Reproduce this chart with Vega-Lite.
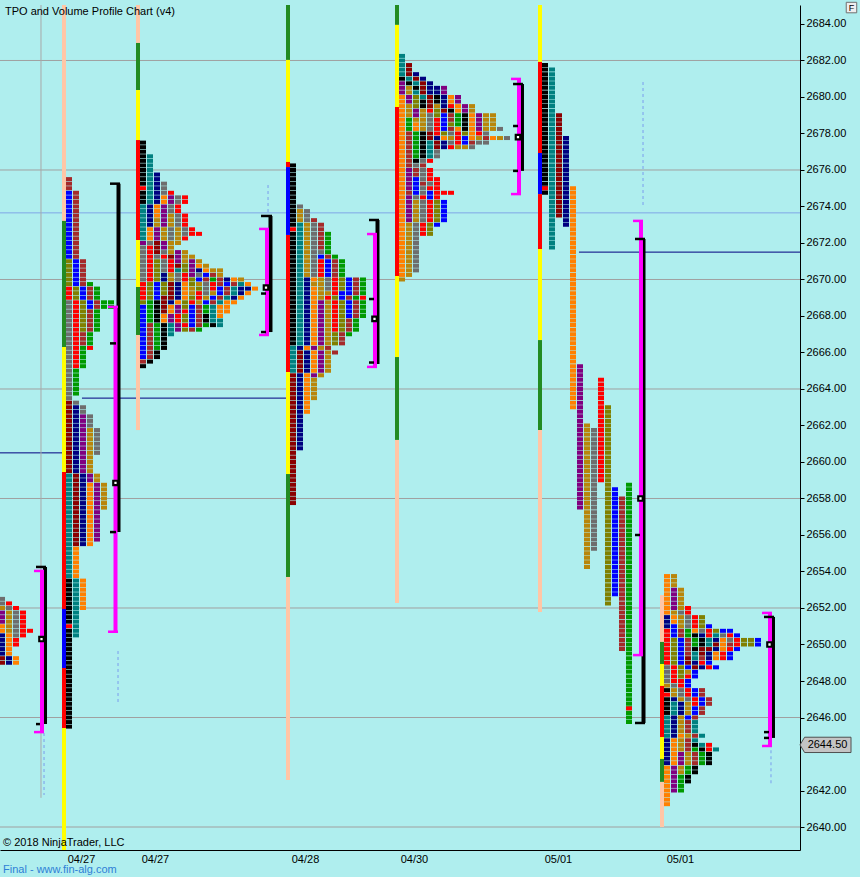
{
"$schema":"https://vega.github.io/schema/vega-lite/v6.json",
"width":800,"height":845,
"autosize":{"type":"none"},
"padding":{"left":0,"top":5,"right":60,"bottom":27},
"background":"#AFEEEE",
"config":{"view":{"stroke":null},"font":"Liberation Sans"},
"resolve":{"scale":{"stroke":"independent","fill":"independent"}},
"encoding":{
 "x":{"field":"x","type":"quantitative","scale":{"domain":[0,114.2857],"nice":false,"zero":false},
   "axis":{"orient":"bottom","values":[11.57,22.14,43.57,59.14,79.71,97.14],"labelExpr":"datum.value < 30 ? '04/27' : datum.value < 50 ? '04/28' : datum.value < 70 ? '04/30' : '05/01'","title":null,"grid":false,"ticks":false,"domainColor":"#000000","domainWidth":1,"labelFontSize":11,"labelColor":"#000000","labelPadding":3,"labelFlush":false,"labelOverlap":false}},
 "y":{"field":"y","type":"quantitative","scale":{"domain":[2638.74,2685.04],"nice":false,"zero":false},
   "axis":{"orient":"right","values":[2640,2642,2646,2648,2650,2652,2654,2656,2658,2660,2662,2664,2666,2668,2670,2672,2674,2676,2678,2680,2682,2684],"format":".2f","title":null,"grid":false,"domainColor":"#000000","domainWidth":1,"tickColor":"#000000","tickSize":4,"labelFontSize":11,"labelColor":"#000000","labelPadding":2,"labelOverlap":false,"labelFlush":false}}
},
"datasets":{
"sessions":[{"s":"A","t":-0.1429},{"s":"B","t":9.4286},{"s":"C","t":20},{"s":"D","t":41.4286},{"s":"E","t":57},{"s":"F","t":77.4286},{"s":"G","t":94.8571}],
"tpo":[
{"s":"A","y":2652.5,"c":[4]},{"s":"A","y":2652.25,"c":[4,6]},{"s":"A","y":2652,"c":[8,4,6]},{"s":"A","y":2651.75,"c":[7,8,4,6]},{"s":"A","y":2651.5,"c":[7,8,4,6]},{"s":"A","y":2651.25,"c":[7,8,4,6]},{"s":"A","y":2651,"c":[5,8,4,6]},{"s":"A","y":2650.75,"c":[5,8,4,6,6]},{"s":"A","y":2650.5,"c":[3,5,4,6]},{"s":"A","y":2650.25,"c":[3,5,6]},{"s":"A","y":2650,"c":[3,5,6]},{"s":"A","y":2649.75,"c":[3,5]},{"s":"A","y":2649.5,"c":[3,5]},{"s":"A","y":2649.25,"c":[2,3,5]},{"s":"A","y":2649,"c":[2,3,5]},
{"s":"B","y":2675.5,"c":[10]},{"s":"B","y":2675.25,"c":[10]},{"s":"B","y":2675,"c":[10]},
{"s":"B","y":2674.75,"c":[11,10]},{"s":"B","y":2674.5,"c":[11,10]},{"s":"B","y":2674.25,"c":[11,10]},{"s":"B","y":2674,"c":[11,10]},{"s":"B","y":2673.75,"c":[11,10]},{"s":"B","y":2673.5,"c":[11,10]},{"s":"B","y":2673.25,"c":[11,10]},{"s":"B","y":2673,"c":[11,10]},{"s":"B","y":2672.75,"c":[11,10]},{"s":"B","y":2672.5,"c":[11,10]},{"s":"B","y":2672.25,"c":[11,10]},{"s":"B","y":2672,"c":[11,10]},{"s":"B","y":2671.75,"c":[11,10]},{"s":"B","y":2671.5,"c":[11,10]},{"s":"B","y":2671.25,"c":[11,10]},
{"s":"B","y":2671,"c":[9,11,10]},{"s":"B","y":2670.75,"c":[9,11,10]},{"s":"B","y":2670.5,"c":[9,11,10]},{"s":"B","y":2670.25,"c":[9,11,10]},{"s":"B","y":2670,"c":[9,11,10]},
{"s":"B","y":2669.75,"c":[9,11,10,12]},
{"s":"B","y":2669.5,"c":[6,9,11,10,12]},{"s":"B","y":2669.25,"c":[6,9,11,10,12]},{"s":"B","y":2669,"c":[6,9,11,10,12]},
{"s":"B","y":2668.75,"c":[4,6,9,11,10,12,12]},{"s":"B","y":2668.5,"c":[4,6,9,11,10,12,12]},
{"s":"B","y":2668.25,"c":[4,6,9,10,12]},{"s":"B","y":2668,"c":[4,6,9,10,12]},{"s":"B","y":2667.75,"c":[4,6,9,10,12]},{"s":"B","y":2667.5,"c":[4,6,9,10,12]},{"s":"B","y":2667.25,"c":[4,6,9,10,12]},
{"s":"B","y":2667,"c":[4,6,10,12]},{"s":"B","y":2666.75,"c":[4,6,10,12]},{"s":"B","y":2666.5,"c":[4,6,10,12]},
{"s":"B","y":2666.25,"c":[4,6,12,6]},
{"s":"B","y":2666,"c":[4,6,12]},{"s":"B","y":2665.75,"c":[4,6,12]},{"s":"B","y":2665.5,"c":[4,6,12]},{"s":"B","y":2665.25,"c":[4,6,12]},
{"s":"B","y":2665,"c":[4,12]},{"s":"B","y":2664.75,"c":[4,12]},{"s":"B","y":2664.5,"c":[4,12]},{"s":"B","y":2664.25,"c":[4,12]},{"s":"B","y":2664,"c":[4,12]},{"s":"B","y":2663.75,"c":[4,12]},
{"s":"B","y":2663.5,"c":[4]},{"s":"B","y":2663.25,"c":[2,4]},
{"s":"B","y":2663,"c":[2,3,4]},{"s":"B","y":2662.75,"c":[2,3,4]},
{"s":"B","y":2662.5,"c":[2,3,7,4]},{"s":"B","y":2662.25,"c":[2,3,7,4]},{"s":"B","y":2662,"c":[2,3,7,4]},
{"s":"B","y":2661.75,"c":[2,3,7,8,4]},{"s":"B","y":2661.5,"c":[2,3,7,8,4]},{"s":"B","y":2661.25,"c":[2,3,7,8,4]},{"s":"B","y":2661,"c":[2,3,7,8,4]},{"s":"B","y":2660.75,"c":[2,3,7,8,4]},{"s":"B","y":2660.5,"c":[2,3,7,8,4]},
{"s":"B","y":2660.25,"c":[2,3,7,8]},{"s":"B","y":2660,"c":[2,3,7,8]},{"s":"B","y":2659.75,"c":[2,3,7,8]},{"s":"B","y":2659.5,"c":[2,3,7,8]},
{"s":"B","y":2659.25,"c":[1,2,3,7,8]},{"s":"B","y":2659,"c":[1,2,3,7,8]},
{"s":"B","y":2658.75,"c":[1,2,3,5,7,8]},{"s":"B","y":2658.5,"c":[1,2,3,5,7,8]},{"s":"B","y":2658.25,"c":[1,2,3,5,7,8]},{"s":"B","y":2658,"c":[1,2,3,5,7,8]},{"s":"B","y":2657.75,"c":[1,2,3,5,7,8]},{"s":"B","y":2657.5,"c":[1,2,3,5,7,8]},
{"s":"B","y":2657.25,"c":[1,2,3,5,7]},{"s":"B","y":2657,"c":[1,2,3,5,7]},{"s":"B","y":2656.75,"c":[1,2,3,5,7]},{"s":"B","y":2656.5,"c":[1,2,3,5,7]},{"s":"B","y":2656.25,"c":[1,2,3,5,7]},{"s":"B","y":2656,"c":[1,2,3,5,7]},{"s":"B","y":2655.75,"c":[1,2,3,5,7]},
{"s":"B","y":2655.5,"c":[1,2,3,5]},
{"s":"B","y":2655.25,"c":[1,5]},{"s":"B","y":2655,"c":[1,5]},{"s":"B","y":2654.75,"c":[1,5]},{"s":"B","y":2654.5,"c":[1,5]},{"s":"B","y":2654.25,"c":[1,5]},{"s":"B","y":2654,"c":[1,5]},{"s":"B","y":2653.75,"c":[1,5]},
{"s":"B","y":2653.5,"c":[0,1,5]},{"s":"B","y":2653.25,"c":[0,1,5]},{"s":"B","y":2653,"c":[0,1,5]},{"s":"B","y":2652.75,"c":[0,1,5]},{"s":"B","y":2652.5,"c":[0,1,5]},{"s":"B","y":2652.25,"c":[0,1,5]},{"s":"B","y":2652,"c":[0,1,5]},
{"s":"B","y":2651.75,"c":[0,1]},{"s":"B","y":2651.5,"c":[0,1]},{"s":"B","y":2651.25,"c":[0,1]},{"s":"B","y":2651,"c":[6,1]},{"s":"B","y":2650.75,"c":[0,1]},{"s":"B","y":2650.5,"c":[0,1]},
{"s":"B","y":2650.25,"c":[0]},{"s":"B","y":2650,"c":[0]},{"s":"B","y":2649.75,"c":[0]},{"s":"B","y":2649.5,"c":[0]},{"s":"B","y":2649.25,"c":[0]},{"s":"B","y":2649,"c":[0]},{"s":"B","y":2648.75,"c":[0]},{"s":"B","y":2648.5,"c":[0]},{"s":"B","y":2648.25,"c":[0]},{"s":"B","y":2648,"c":[0]},{"s":"B","y":2647.75,"c":[0]},{"s":"B","y":2647.5,"c":[0]},{"s":"B","y":2647.25,"c":[0]},{"s":"B","y":2647,"c":[0]},{"s":"B","y":2646.75,"c":[0]},{"s":"B","y":2646.5,"c":[0]},{"s":"B","y":2646.25,"c":[0]},{"s":"B","y":2646,"c":[0]},{"s":"B","y":2645.75,"c":[0]},{"s":"B","y":2645.5,"c":[0]},
{"s":"C","y":2677.5,"c":[0]},{"s":"C","y":2677.25,"c":[0]},{"s":"C","y":2677,"c":[0]},{"s":"C","y":2676.75,"c":[0,1]},{"s":"C","y":2676.5,"c":[0,1]},{"s":"C","y":2676.25,"c":[0,1]},{"s":"C","y":2676,"c":[0,1]},{"s":"C","y":2675.75,"c":[0,1,3]},{"s":"C","y":2675.5,"c":[0,1,3]},{"s":"C","y":2675.25,"c":[0,1,3,4]},{"s":"C","y":2675,"c":[6,1,3,4]},{"s":"C","y":2674.75,"c":[0,1,3,4,6]},{"s":"C","y":2674.5,"c":[0,1,3,5,7,4,6]},{"s":"C","y":2674.25,"c":[0,1,3,5,7,4,6]},{"s":"C","y":2674,"c":[1,3,5,7,4,6]},{"s":"C","y":2673.75,"c":[1,3,5,7,4,6]},{"s":"C","y":2673.5,"c":[1,3,5,7,8,4,6]},{"s":"C","y":2673.25,"c":[1,3,8,7,8,4,6]},{"s":"C","y":2673,"c":[1,3,8,7,8,4,6]},{"s":"C","y":2672.75,"c":[1,5,7,8,4,8,4,6]},{"s":"C","y":2672.5,"c":[1,5,7,8,4,8,4,6,6]},{"s":"C","y":2672.25,"c":[1,5,7,8,4,8,6]},{"s":"C","y":2672,"c":[7,4,2,7,8,8]},{"s":"C","y":2671.75,"c":[4,6,2,7,8]},{"s":"C","y":2671.5,"c":[4,6,2,4,8,7,8]},{"s":"C","y":2671.25,"c":[4,6,4,6,2,7,8,8]},{"s":"C","y":2671,"c":[4,6,9,4,6,7,8,7,8]},{"s":"C","y":2670.75,"c":[4,6,9,4,6,2,9,7,5,8]},{"s":"C","y":2670.5,"c":[4,6,9,4,6,1,9,7,3,5,8,8]},{"s":"C","y":2670.25,"c":[4,6,9,3,8,4,6,7,4,11,10,8]},{"s":"C","y":2670,"c":[4,6,9,3,8,4,6,9,11,10,12,10,3,5,8]},{"s":"C","y":2669.75,"c":[6,9,11,9,2,3,5,9,8,4,6,10,11,10,1,5]},{"s":"C","y":2669.5,"c":[6,9,11,9,2,3,5,8,9,4,6,11,10,1,3,3,5]},{"s":"C","y":2669.25,"c":[6,9,11,9,2,3,5,8,6,4,8,11,10,1,3,5]},{"s":"C","y":2669,"c":[6,9,11,2,2,3,5,9,6,8,11,10,1,3,5]},{"s":"C","y":2668.75,"c":[9,12,0,2,3,5,9,6,8,11,10,1,5,5]},{"s":"C","y":2668.5,"c":[11,12,0,2,5,7,9,11,10,12,1,5,5]},{"s":"C","y":2668.25,"c":[11,12,0,2,5,7,6,11,10,12,1,5,5]},{"s":"C","y":2668,"c":[11,12,0,5,7,6,9,11,10,0,1,5]},{"s":"C","y":2667.75,"c":[11,12,0,5,7,6,9,11,10,0,1,1]},{"s":"C","y":2667.5,"c":[11,10,12,0,1,7,6,11,10,12,0,1]},{"s":"C","y":2667.25,"c":[11,10,12,0,1,7,9,10,12]},{"s":"C","y":2667,"c":[11,10,12,0,1]},{"s":"C","y":2666.75,"c":[11,10,12,0]},{"s":"C","y":2666.5,"c":[11,10,12,0]},{"s":"C","y":2666.25,"c":[11,10,12,0]},{"s":"C","y":2666,"c":[11,10,0]},{"s":"C","y":2665.75,"c":[11,10,0]},{"s":"C","y":2665.5,"c":[10,0]},{"s":"C","y":2665.25,"c":[0]},
{"s":"D","y":2676.25,"c":[0]},{"s":"D","y":2676,"c":[0]},{"s":"D","y":2675.75,"c":[0]},{"s":"D","y":2675.5,"c":[0]},{"s":"D","y":2675.25,"c":[0]},{"s":"D","y":2675,"c":[0]},{"s":"D","y":2674.75,"c":[0]},{"s":"D","y":2674.5,"c":[0]},{"s":"D","y":2674.25,"c":[0]},{"s":"D","y":2674,"c":[0,4]},{"s":"D","y":2673.75,"c":[0,8,4]},{"s":"D","y":2673.5,"c":[0,8,4]},{"s":"D","y":2673.25,"c":[0,8,4,10]},{"s":"D","y":2673,"c":[0,1,8,4,10]},{"s":"D","y":2672.75,"c":[6,1,8,4,10]},{"s":"D","y":2672.5,"c":[0,1,8,4,10,12]},{"s":"D","y":2672.25,"c":[0,1,8,4,10,12]},{"s":"D","y":2672,"c":[0,1,8,4,10,12]},{"s":"D","y":2671.75,"c":[0,1,8,4,10,12]},{"s":"D","y":2671.5,"c":[0,1,8,4,4,12]},{"s":"D","y":2671.25,"c":[0,1,8,4,11,10,12]},{"s":"D","y":2671,"c":[0,1,8,4,6,11,10,12]},{"s":"D","y":2670.75,"c":[0,1,8,4,6,11,10,12]},{"s":"D","y":2670.5,"c":[0,1,8,4,6,11,10,12]},{"s":"D","y":2670.25,"c":[0,1,8,4,6,11,10,12]},{"s":"D","y":2670,"c":[0,1,3,5,8,4,6,9,11,10,12]},{"s":"D","y":2669.75,"c":[0,1,3,8,8,4,6,9,11,10,12]},{"s":"D","y":2669.5,"c":[0,1,3,5,8,4,6,9,11,10,12]},{"s":"D","y":2669.25,"c":[0,1,3,5,8,8,6,11,11,10,12]},{"s":"D","y":2669,"c":[0,1,3,5,8,6,9,11,10,12,6]},{"s":"D","y":2668.75,"c":[0,1,3,5,7,8,6,9,11,10,12]},{"s":"D","y":2668.5,"c":[0,1,3,5,7,8,6,9,11,10,12]},{"s":"D","y":2668.25,"c":[0,1,3,5,7,8,6,9,11,10,12]},{"s":"D","y":2668,"c":[0,1,3,5,7,8,6,9,11,10,12]},{"s":"D","y":2667.75,"c":[0,1,3,5,7,8,6,9,10,12]},{"s":"D","y":2667.5,"c":[0,1,3,5,7,8,6,9,10,12]},{"s":"D","y":2667.25,"c":[0,1,3,5,7,8,6,9,10,12]},{"s":"D","y":2667,"c":[0,1,3,5,7,8,9,10,12]},{"s":"D","y":2666.75,"c":[0,1,3,5,7,8,9,10]},{"s":"D","y":2666.5,"c":[0,1,3,5,7,8,9,10]},{"s":"D","y":2666.25,"c":[1,3,5,7,8,10]},{"s":"D","y":2666,"c":[1,2,3,5,7,8,10]},{"s":"D","y":2665.75,"c":[1,2,3,5,7,8]},{"s":"D","y":2665.5,"c":[1,2,3,5,7,8]},{"s":"D","y":2665.25,"c":[1,2,3,5,7,8]},{"s":"D","y":2665,"c":[1,2,3,5,7,8]},{"s":"D","y":2664.75,"c":[2,3,5,7,8]},{"s":"D","y":2664.5,"c":[2,3,5,8]},{"s":"D","y":2664.25,"c":[2,3,5,8]},{"s":"D","y":2664,"c":[2,3,5,8]},{"s":"D","y":2663.75,"c":[2,3,5,8]},{"s":"D","y":2663.5,"c":[2,3,5,8]},{"s":"D","y":2663.25,"c":[2,3,5]},{"s":"D","y":2663,"c":[2,3,5]},{"s":"D","y":2662.75,"c":[2,3,5]},{"s":"D","y":2662.5,"c":[2,3]},{"s":"D","y":2662.25,"c":[2,3]},{"s":"D","y":2662,"c":[2,3]},{"s":"D","y":2661.75,"c":[2,3]},{"s":"D","y":2661.5,"c":[2,3]},{"s":"D","y":2661.25,"c":[2,3]},{"s":"D","y":2661,"c":[2,3]},{"s":"D","y":2660.75,"c":[2,3]},{"s":"D","y":2660.5,"c":[2]},{"s":"D","y":2660.25,"c":[2]},{"s":"D","y":2660,"c":[2]},{"s":"D","y":2659.75,"c":[2]},{"s":"D","y":2659.5,"c":[2]},{"s":"D","y":2659.25,"c":[2]},{"s":"D","y":2659,"c":[2]},{"s":"D","y":2658.75,"c":[2]},{"s":"D","y":2658.5,"c":[2]},{"s":"D","y":2658.25,"c":[2]},{"s":"D","y":2658,"c":[2]},{"s":"D","y":2657.75,"c":[2]},
{"s":"E","y":2682.25,"c":[1]},{"s":"E","y":2682,"c":[1]},{"s":"E","y":2681.75,"c":[1,2]},{"s":"E","y":2681.5,"c":[1,2]},{"s":"E","y":2681.25,"c":[1,2,3]},{"s":"E","y":2681,"c":[0,1,2,3]},{"s":"E","y":2680.75,"c":[7,0,1,2,3]},{"s":"E","y":2680.5,"c":[7,8,0,2,3,3,7]},{"s":"E","y":2680.25,"c":[7,8,1,2,3,3,7]},{"s":"E","y":2680,"c":[5,7,9,1,2,0,3,5,7]},{"s":"E","y":2679.75,"c":[5,7,9,0,2,0,3,5,7]},{"s":"E","y":2679.5,"c":[5,8,9,0,2,8,3,6,5,7,8]},{"s":"E","y":2679.25,"c":[5,8,7,8,6,9,2,0,5,7,8]},{"s":"E","y":2679,"c":[5,8,7,8,4,9,11,10,12,0,5,7,8,8]},{"s":"E","y":2678.75,"c":[5,12,8,8,4,6,11,10,12,0,5,7,8,8]},{"s":"E","y":2678.5,"c":[5,12,5,8,4,6,11,9,12,0,5,7,8,8]},{"s":"E","y":2678.25,"c":[5,12,5,8,4,6,11,10,5,0,5,7,8,8,4]},{"s":"E","y":2678,"c":[5,10,12,0,2,6,9,4,6,9,5,6,4]},{"s":"E","y":2677.75,"c":[5,10,12,0,2,3,5,8,6,11,5,8,10,5,8,4]},{"s":"E","y":2677.5,"c":[5,10,12,0,1,2,3,4,6,11,10,4,4]},{"s":"E","y":2677.25,"c":[5,10,12,0,1,2,3,6,8,8,4]},{"s":"E","y":2677,"c":[5,10,12,0,1,4]},{"s":"E","y":2676.75,"c":[5,10,12,0,1,4]},{"s":"E","y":2676.5,"c":[5,10,0,4,6]},{"s":"E","y":2676.25,"c":[5,10,4,10]},{"s":"E","y":2676,"c":[5,7,10,4,6]},{"s":"E","y":2675.75,"c":[5,7,10,4,6]},{"s":"E","y":2675.5,"c":[5,7,11,4,6,6]},{"s":"E","y":2675.25,"c":[5,7,11,10,4,6]},{"s":"E","y":2675,"c":[5,7,11,4,6,6]},{"s":"E","y":2674.75,"c":[5,10,11,4,11,6,6,6]},{"s":"E","y":2674.5,"c":[5,7,4,6,11,6]},{"s":"E","y":2674.25,"c":[5,7,8,4,6,9,11]},{"s":"E","y":2674,"c":[5,7,8,4,6,9,11]},{"s":"E","y":2673.75,"c":[5,7,8,4,6,9,11]},{"s":"E","y":2673.5,"c":[5,7,8,4,6,9,11]},{"s":"E","y":2673.25,"c":[5,7,8,4,6,9,11]},{"s":"E","y":2673,"c":[5,8,4,6,9,11]},{"s":"E","y":2672.75,"c":[5,8,4,6,9]},{"s":"E","y":2672.5,"c":[5,8,4,6,9]},{"s":"E","y":2672.25,"c":[5,8,4]},{"s":"E","y":2672,"c":[5,8,4]},{"s":"E","y":2671.75,"c":[5,8,4]},{"s":"E","y":2671.5,"c":[5,8,4]},{"s":"E","y":2671.25,"c":[5,8,4]},{"s":"E","y":2671,"c":[5,8,4]},{"s":"E","y":2670.75,"c":[5,8,4]},{"s":"E","y":2670.5,"c":[5,8,4]},{"s":"E","y":2670.25,"c":[5,8]},{"s":"E","y":2670,"c":[8]},
{"s":"F","y":2675,"c":[6]},{"s":"F","y":2646.5,"c":[-1,-1,-1,-1,-1,-1,-1,-1,-1,-1,-1,-1,6]},
{"s":"G","y":2653.75,"c":[5,8]},{"s":"G","y":2653.5,"c":[5,8]},{"s":"G","y":2653.25,"c":[5,8]},{"s":"G","y":2653,"c":[5,7,8]},{"s":"G","y":2652.75,"c":[5,7,8]},{"s":"G","y":2652.5,"c":[5,7,8]},{"s":"G","y":2652.25,"c":[5,7,8]},{"s":"G","y":2652,"c":[5,7,8,6]},{"s":"G","y":2651.75,"c":[5,8,4,6]},{"s":"G","y":2651.5,"c":[3,5,8,4,6,9]},{"s":"G","y":2651.25,"c":[3,5,8,4,6,9]},{"s":"G","y":2651,"c":[3,11,8,4,6,9,11]},{"s":"G","y":2650.75,"c":[6,11,10,12,5,4,6,9,11,11]},{"s":"G","y":2650.5,"c":[6,11,10,12,0,3,6,1,4,6,11]},{"s":"G","y":2650.25,"c":[6,9,11,10,12,0,1,3,5,4,6,9,9,11]},{"s":"G","y":2650,"c":[6,9,11,10,12,0,1,2,5,10,6,9,9,11]},{"s":"G","y":2649.75,"c":[6,9,11,10,0,2,2,3,5,6,11]},{"s":"G","y":2649.5,"c":[6,9,11,10,1,2,3,5,6,11]},{"s":"G","y":2649.25,"c":[6,9,11,2,1,10,3,5,6,11]},{"s":"G","y":2649,"c":[6,9,11,2,3,6,11]},{"s":"G","y":2648.75,"c":[4,6,9,11,2,3,6,11]},{"s":"G","y":2648.5,"c":[4,6,9,8,11]},{"s":"G","y":2648.25,"c":[4,6,9,6,11]},{"s":"G","y":2648,"c":[4,6,6,11]},{"s":"G","y":2647.75,"c":[8,4,6,11]},{"s":"G","y":2647.5,"c":[0,8,4,6,11,10]},{"s":"G","y":2647.25,"c":[6,8,4,6,11,10]},{"s":"G","y":2647,"c":[0,3,8,4,6,11,10]},{"s":"G","y":2646.75,"c":[0,1,3,8,6,11,10]},{"s":"G","y":2646.5,"c":[0,1,3,8,11,10]},{"s":"G","y":2646.25,"c":[0,1,3,8,11,10]},{"s":"G","y":2646,"c":[1,3,8,11,10]},{"s":"G","y":2645.75,"c":[1,3,8,10,1]},{"s":"G","y":2645.5,"c":[1,3,8,10,1]},{"s":"G","y":2645.25,"c":[1,3,8,10,1]},{"s":"G","y":2645,"c":[1,3,5,8,10,1]},{"s":"G","y":2644.75,"c":[3,5,8,10,1]},{"s":"G","y":2644.5,"c":[3,5,8,10,0,1,6]},{"s":"G","y":2644.25,"c":[3,5,8,10,12,0,6,1]},{"s":"G","y":2644,"c":[3,5,7,8,10,12,0]},{"s":"G","y":2643.75,"c":[3,5,7,8,10,12,0]},{"s":"G","y":2643.5,"c":[3,5,7,8,10,12,0]},{"s":"G","y":2643.25,"c":[5,7,8,12,0]},{"s":"G","y":2643,"c":[5,7,8,12,0]},{"s":"G","y":2642.75,"c":[5,7,12,0]},{"s":"G","y":2642.5,"c":[5,7,12,0]},{"s":"G","y":2642.25,"c":[5,7,12]},{"s":"G","y":2642,"c":[5,7,12]},{"s":"G","y":2641.75,"c":[5]},{"s":"G","y":2641.5,"c":[5]},{"s":"G","y":2641.25,"c":[5]}
],
"runs":[
{"s":"F","k":0,"c":0,"hi":2681.75,"lo":2674.75},{"s":"F","k":1,"c":1,"hi":2681.5,"lo":2671.75},{"s":"F","k":2,"c":2,"hi":2679,"lo":2673.5},{"s":"F","k":3,"c":3,"hi":2677.75,"lo":2673},{"s":"F","k":4,"c":5,"hi":2675,"lo":2663},{"s":"F","k":5,"c":7,"hi":2665.25,"lo":2657.5},{"s":"F","k":6,"c":8,"hi":2662,"lo":2654.25},{"s":"F","k":7,"c":4,"hi":2661.75,"lo":2655.25},{"s":"F","k":8,"c":6,"hi":2664.5,"lo":2659},{"s":"F","k":9,"c":9,"hi":2663,"lo":2652.25},{"s":"F","k":10,"c":11,"hi":2658.5,"lo":2652.75},{"s":"F","k":11,"c":10,"hi":2658,"lo":2649.75},{"s":"F","k":12,"c":12,"hi":2658.75,"lo":2645.75}
],
"bars":[
{"s":"B","c":"S","y":2685.04,"y2":2673.21},{"s":"B","c":"G","y":2673.21,"y2":2666.3},{"s":"B","c":"Y","y":2666.3,"y2":2659.45},{"s":"B","c":"R","y":2659.45,"y2":2651.95},{"s":"B","c":"B","y":2651.95,"y2":2648.71},{"s":"B","c":"R","y":2648.71,"y2":2645.42},{"s":"B","c":"Y","y":2645.42,"y2":2638.74},
{"s":"C","c":"S","y":2685.04,"y2":2682.96},{"s":"C","c":"G","y":2682.96,"y2":2680.38},{"s":"C","c":"Y","y":2680.38,"y2":2677.64},{"s":"C","c":"R","y":2677.64,"y2":2672.16},{"s":"C","c":"Y","y":2672.16,"y2":2669.59},{"s":"C","c":"G","y":2669.59,"y2":2666.96},{"s":"C","c":"S","y":2666.96,"y2":2661.75},
{"s":"D","c":"G","y":2685.04,"y2":2682.03},{"s":"D","c":"Y","y":2682.03,"y2":2676.44},{"s":"D","c":"R","y":2676.44,"y2":2676.16},{"s":"D","c":"B","y":2676.16,"y2":2672.44},{"s":"D","c":"R","y":2672.44,"y2":2664.93},{"s":"D","c":"Y","y":2664.93,"y2":2659.34},{"s":"D","c":"G","y":2659.34,"y2":2653.7},{"s":"D","c":"S","y":2653.7,"y2":2642.58},
{"s":"E","c":"G","y":2685.04,"y2":2683.95},{"s":"E","c":"Y","y":2683.95,"y2":2679.45},{"s":"E","c":"R","y":2679.45,"y2":2670.19},{"s":"E","c":"Y","y":2670.19,"y2":2665.75},{"s":"E","c":"G","y":2665.75,"y2":2661.21},{"s":"E","c":"S","y":2661.21,"y2":2652.27},
{"s":"F","c":"Y","y":2685.04,"y2":2681.92},{"s":"F","c":"R","y":2681.92,"y2":2676.93},{"s":"F","c":"B","y":2676.93,"y2":2674.68},{"s":"F","c":"R","y":2674.68,"y2":2671.67},{"s":"F","c":"Y","y":2671.67,"y2":2666.68},{"s":"F","c":"G","y":2666.68,"y2":2661.75},{"s":"F","c":"S","y":2661.75,"y2":2651.78},
{"s":"G","c":"S","y":2652.71,"y2":2650.14},{"s":"G","c":"G","y":2650.14,"y2":2648.93},{"s":"G","c":"Y","y":2648.93,"y2":2647.73},{"s":"G","c":"R","y":2647.73,"y2":2644.93},{"s":"G","c":"Y","y":2644.93,"y2":2643.73},{"s":"G","c":"G","y":2643.73,"y2":2642.47},{"s":"G","c":"S","y":2642.47,"y2":2640}
],
"bv":[
{"k":"K","x":6.43,"y":2654.25,"y2":2645.64},{"k":"K","x":16.93,"y":2675.25,"y2":2656.16},{"k":"K","x":38.64,"y":2673.48,"y2":2667.12},{"k":"K","x":53.93,"y":2673.26,"y2":2665.37},{"k":"K","x":74.57,"y":2680.71,"y2":2675.95},{"k":"K","x":91.93,"y":2672.22,"y2":2645.7},{"k":"K","x":110.43,"y":2651.51,"y2":2644.88},
{"k":"M","x":6.0,"y":2654.03,"y2":2645.2},{"k":"M","x":16.5,"y":2668.5,"y2":2650.7},{"k":"M","x":38.14,"y":2672.77,"y2":2666.96},{"k":"M","x":53.57,"y":2672.49,"y2":2665.21},{"k":"M","x":74.14,"y":2680.99,"y2":2674.68},{"k":"M","x":91.57,"y":2673.21,"y2":2649.42},{"k":"M","x":110.0,"y":2651.73,"y2":2644.44}
],
"bt":[
{"k":"K","x":5.14,"x2":6.57,"y":2654.25},{"k":"K","x":5.14,"x2":5.71,"y":2645.64},
{"k":"K","x":15.71,"x2":17.14,"y":2675.25},{"k":"K","x":15.71,"x2":16.57,"y":2666.5},{"k":"K","x":15.71,"x2":16.57,"y":2656.16},
{"k":"K","x":37.29,"x2":38.86,"y":2673.48},{"k":"K","x":37.29,"x2":38.0,"y":2669.23},{"k":"K","x":37.29,"x2":38.0,"y":2667.12},
{"k":"K","x":52.71,"x2":54.14,"y":2673.26},{"k":"K","x":52.71,"x2":53.43,"y":2668.93},{"k":"K","x":52.71,"x2":53.43,"y":2665.45},
{"k":"K","x":73.29,"x2":74.71,"y":2680.71},{"k":"K","x":73.29,"x2":74.0,"y":2678.41},{"k":"K","x":73.29,"x2":74.0,"y":2675.95},
{"k":"K","x":90.71,"x2":92.14,"y":2672.22},{"k":"K","x":90.71,"x2":91.43,"y":2656.0},{"k":"K","x":90.71,"x2":92.14,"y":2645.7},
{"k":"K","x":109.14,"x2":110.57,"y":2651.51},{"k":"K","x":109.14,"x2":109.86,"y":2645.2},{"k":"K","x":109.14,"x2":109.86,"y":2644.88},
{"k":"M","x":4.86,"x2":6.29,"y":2654.03},{"k":"M","x":4.86,"x2":6.29,"y":2645.2},
{"k":"M","x":15.43,"x2":16.86,"y":2668.5},{"k":"M","x":15.43,"x2":16.86,"y":2650.7},
{"k":"M","x":37.0,"x2":38.43,"y":2672.77},{"k":"M","x":37.0,"x2":38.43,"y":2666.96},
{"k":"M","x":52.43,"x2":53.86,"y":2672.49},{"k":"M","x":52.43,"x2":53.86,"y":2665.21},
{"k":"M","x":73.0,"x2":74.43,"y":2680.99},{"k":"M","x":73.0,"x2":74.43,"y":2674.68},
{"k":"M","x":90.43,"x2":91.86,"y":2673.21},{"k":"M","x":90.43,"x2":91.86,"y":2649.42},
{"k":"M","x":108.86,"x2":110.29,"y":2651.73},{"k":"M","x":108.86,"x2":110.29,"y":2644.44}
],
"poc":[{"x":5.93,"y":2650.3},{"x":16.5,"y":2658.85},{"x":38.0,"y":2669.56},{"x":53.5,"y":2667.84},{"x":74.0,"y":2677.8},{"x":91.5,"y":2658.0},{"x":109.93,"y":2650.0}],
"hl":[{"x":0,"x2":114.2857,"y":2682,"k":"g"},{"x":0,"x2":114.2857,"y":2676,"k":"g"},{"x":0,"x2":114.2857,"y":2670,"k":"g"},{"x":0,"x2":114.2857,"y":2664,"k":"g"},{"x":0,"x2":114.2857,"y":2658,"k":"g"},{"x":0,"x2":114.2857,"y":2652,"k":"g"},{"x":0,"x2":114.2857,"y":2646,"k":"g"},{"x":0,"x2":114.2857,"y":2640,"k":"g"},{"x":0,"x2":114.2857,"y":2673.65,"k":"b"},{"x":0,"x2":9.29,"y":2660.5,"k":"n"},{"x":11.71,"x2":41.43,"y":2663.5,"k":"n"},{"x":82.71,"x2":114.2857,"y":2671.5,"k":"n"}],
"vl":[{"x":5.857,"y":2685.04,"y2":2641.6,"k":"g"},{"x":6.29,"y":2645.15,"y2":2641.75,"k":"d"},{"x":16.86,"y":2649.64,"y2":2646.68,"k":"d"},{"x":38.29,"y":2675.18,"y2":2673.53,"k":"d"},{"x":91.86,"y":2680.82,"y2":2673.92,"k":"d"},{"x":110.14,"y":2644.2,"y2":2642.3,"k":"d"}],
"notes":[{"x":0.71,"y":2684.66,"txt":"TPO and Volume Profile Chart (v4)","k":"t"},{"x":0.43,"y":2639.12,"txt":"© 2018 NinjaTrader, LLC","k":"t"},{"x":0.43,"y":2637.64,"txt":"Final - www.fin-alg.com","k":"l"}]
},
"layer":[
{"data":{"name":"hl"},"mark":{"type":"rule","strokeWidth":1},
 "encoding":{"x2":{"field":"x2"},
  "stroke":{"condition":[{"test":"datum.k=='b'","value":"#7FA6E6"},{"test":"datum.k=='n'","value":"#000080"}],"value":"#A0A0A0"}}},
{"data":{"name":"vl"},"transform":[{"filter":"datum.k=='g'"}],"mark":{"type":"rule","strokeWidth":1,"stroke":"#A8A8A8"},
 "encoding":{"y2":{"field":"y2"}}},
{"data":{"name":"vl"},"transform":[{"filter":"datum.k=='d'"}],"mark":{"type":"rule","strokeWidth":1.5,"stroke":"#8CB8EE","strokeDash":[3,3]},
 "encoding":{"y2":{"field":"y2"}}},
{"data":{"name":"bars"},
 "transform":[{"lookup":"s","from":{"data":{"name":"sessions"},"key":"s","fields":["t"]}},{"calculate":"datum.t - 0.2857","as":"x"}],
 "mark":{"type":"rule","strokeWidth":4,"strokeCap":"butt"},
 "encoding":{"y2":{"field":"y2"},
  "stroke":{"field":"c","type":"nominal","scale":{"domain":["S","G","Y","R","B"],"range":["#FFC6A6","#228B22","#FFFF00","#FF0000","#0000FF"]},"legend":null}}},
{"data":{"name":"runs"},
 "transform":[{"lookup":"s","from":{"data":{"name":"sessions"},"key":"s","fields":["t"]}},{"calculate":"datum.t + datum.k + 0.4286","as":"x"},{"calculate":"datum.hi + 0.1096","as":"y"},{"calculate":"datum.lo - 0.1096","as":"y2"}],
 "mark":{"type":"rule","strokeWidth":6,"strokeCap":"butt","strokeDash":[4,0.5625]},
 "encoding":{"y2":{"field":"y2"},
  "stroke":{"field":"c","type":"nominal","scale":{"domain":[0,1,2,3,4,5,6,7,8,9,10,11,12],"range":["#000000","#008080","#8B0000","#000080","#6E6E6E","#FF8000","#FF0000","#800080","#B8860B","#808000","#A52A2A","#0000FF","#009A00"]},"legend":null}}},
{"data":{"name":"tpo"},
 "transform":[{"lookup":"s","from":{"data":{"name":"sessions"},"key":"s","fields":["t"]}},{"flatten":["c"],"as":["code"]},{"window":[{"op":"row_number","as":"i"}],"groupby":["s","y"]},{"filter":"datum.code >= 0"},{"calculate":"datum.t + datum.i - 0.5714","as":"x"}],
 "mark":{"type":"point","shape":"M-1,-0.6667H1V0.6667H-1Z","size":36,"filled":true,"opacity":1,"strokeWidth":0},
 "encoding":{
  "fill":{"field":"code","type":"nominal","scale":{"domain":[0,1,2,3,4,5,6,7,8,9,10,11,12],"range":["#000000","#008080","#8B0000","#000080","#6E6E6E","#FF8000","#FF0000","#800080","#B8860B","#808000","#A52A2A","#0000FF","#009A00"]},"legend":null}}},
{"data":{"name":"bv"},"mark":{"type":"rule","strokeWidth":4,"strokeCap":"butt"},
 "encoding":{"y2":{"field":"y2"},
  "stroke":{"field":"k","type":"nominal","scale":{"domain":["K","M"],"range":["#000000","#FF00FF"]},"legend":null}}},
{"data":{"name":"bt"},"mark":{"type":"rule","strokeWidth":2.5,"strokeCap":"butt"},
 "encoding":{"x2":{"field":"x2"},
  "stroke":{"field":"k","type":"nominal","scale":{"domain":["K","M"],"range":["#000000","#FF00FF"]},"legend":null}}},
{"data":{"name":"poc"},"mark":{"type":"point","shape":"square","size":20,"filled":true,"fill":"#FFFFFF","stroke":"#000000","strokeWidth":2.2,"opacity":1}},
{"data":{"values":[{"x":117.93,"y":2644.5,"txt":"2644.50"}]},"mark":{"type":"point","shape":"M-1,0L-0.82,-0.3L1,-0.3L1,0.3L-0.82,0.3Z","size":2601,"filled":true,"fill":"#C4C4C4","stroke":"#505050","strokeWidth":1,"opacity":1}},
{"data":{"values":[{"x":117.93,"y":2644.5,"txt":"2644.50"}]},"mark":{"type":"text","fontSize":11,"color":"#000000","align":"center","baseline":"middle","dx":2},"encoding":{"text":{"field":"txt"}}},
{"data":{"values":[{"x":121.64,"y":2684.9,"txt":"F"}]},"mark":{"type":"point","shape":"square","size":110,"filled":true,"fill":"#EEEEEE","stroke":"#707070","strokeWidth":1,"opacity":1}},
{"data":{"values":[{"x":121.64,"y":2684.9,"txt":"F"}]},"mark":{"type":"text","fontSize":9,"color":"#000000","align":"center","baseline":"middle"},"encoding":{"text":{"field":"txt"}}},
{"data":{"name":"notes"},"mark":{"type":"text","fontSize":11,"align":"left","baseline":"middle"},
 "encoding":{"text":{"field":"txt"},
  "color":{"condition":{"test":"datum.k=='l'","value":"#2E7FD6"},"value":"#000000"}}}
]
}
